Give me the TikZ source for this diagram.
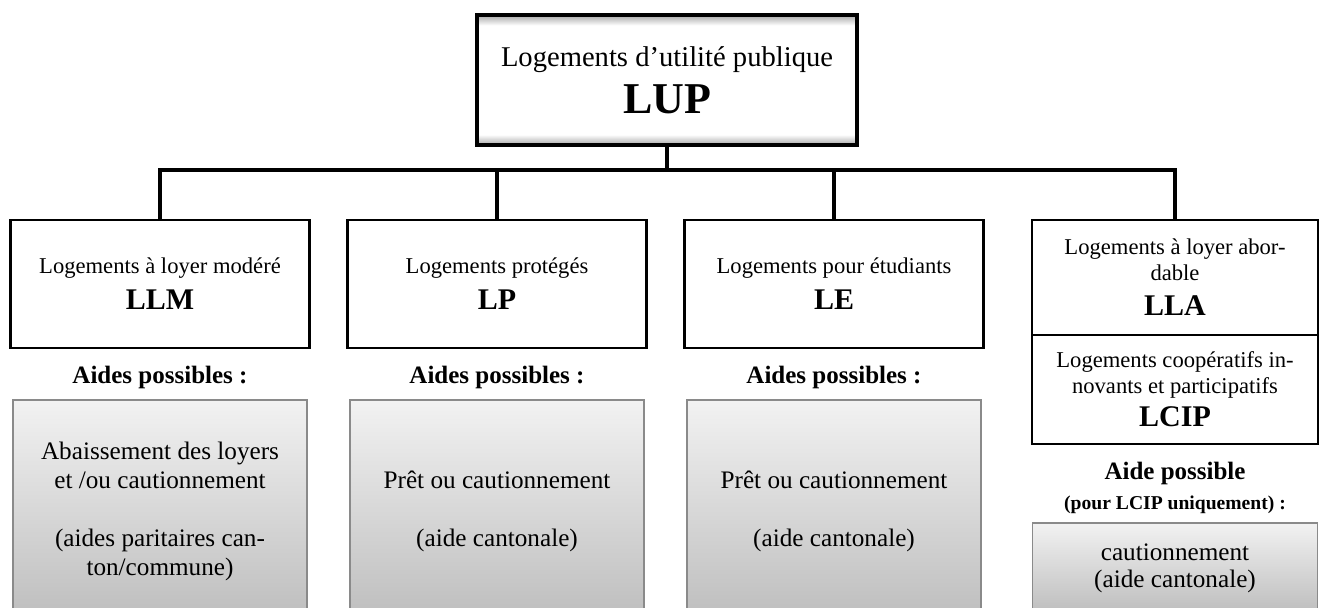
\documentclass[tikz,border=0pt]{standalone}
\usepackage{fontspec}
\setmainfont{Liberation Serif}
\usetikzlibrary{positioning}
\pgfdeclareverticalshading{lupshade}{100bp}{color(0bp)=(black!35); color(25bp)=(black!35);
  color(29bp)=(white); color(71bp)=(white); color(75bp)=(black!35); color(100bp)=(black!35)}
\definecolor{aidtop}{HTML}{F2F2F2}
\definecolor{aidbot}{HTML}{BDBDBD}
\definecolor{aidrule}{HTML}{8A8A8A}

\begin{document}
\begin{tikzpicture}[x=0.5pt,y=-0.5pt,node distance=168.5pt]
\tikzstyle{every node}=[align=center,inner sep=0pt]
\tikzstyle{topbox}=[draw=black,line width=1.7pt,shading=lupshade,minimum width=190pt,
                    minimum height=65pt,font=\fontsize{14.3}{23.4}\selectfont]
\tikzstyle{housebox}=[draw=black,line width=1.2pt,fill=white,minimum width=149.5pt,
                      minimum height=64pt,font=\fontsize{11.3}{13}\selectfont]
\tikzstyle{aidlabel}=[font=\bfseries\fontsize{12.5}{15}\selectfont]
\tikzstyle{aidbox}=[draw=aidrule,line width=0.6pt,top color=aidtop,bottom color=aidbot,
                    minimum width=147pt,minimum height=111pt,font=\fontsize{12.6}{14.5}\selectfont]
\tikzstyle{link}=[line width=1.8pt]
\useasboundingbox (0,0) rectangle (1320,607);
% top level
\node[topbox] (lup) at (667,80) {Logements d’utilité publique\\{\bfseries\fontsize{22}{23.4}\selectfont LUP}};
% categories
\node[housebox] (llm) at (160,284) {Logements à loyer modéré\\[5pt]{\bfseries\fontsize{15}{18}\selectfont LLM}};
\node[housebox] (lp) [right of=llm] {Logements protégés\\[5pt]{\bfseries\fontsize{15}{18}\selectfont LP}};
\node[housebox] (le) [right of=lp] {Logements pour étudiants\\[5pt]{\bfseries\fontsize{15}{18}\selectfont LE}};
\node[housebox,minimum width=143pt,minimum height=57.5pt] (lla) at (1175,277.5)
     {Logements à loyer abor-\\dable\\[4.5pt]{\bfseries\fontsize{15}{18}\selectfont LLA}};
\node[housebox,minimum width=143pt,minimum height=54.5pt] (lcip) [below of=lla,node distance=56pt]
     {Logements coopératifs in-\\novants et participatifs\\[3.5pt]{\bfseries\fontsize{15}{18}\selectfont LCIP}};
% aids
\node[aidlabel] (allm) [below of=llm,node distance=46.5pt] {Aides possibles :};
\node[aidlabel] (alp) [below of=lp,node distance=46.5pt] {Aides possibles :};
\node[aidlabel] (ale) [below of=le,node distance=46.5pt] {Aides possibles :};
\node[aidlabel] (alcip) [below of=lcip,node distance=49pt]
     {Aide possible\\{\fontsize{9.8}{15}\selectfont (pour LCIP uniquement) :}};
\node[aidbox] (gllm) [below of=allm,node distance=67pt]
     {Abaissement des loyers\\et /ou cautionnement\\[14.5pt](aides paritaires can-\\ton/commune)};
\node[aidbox] (glp) [below of=alp,node distance=67pt] {Prêt ou cautionnement\\[14.5pt](aide cantonale)};
\node[aidbox] (gle) [below of=ale,node distance=67pt] {Prêt ou cautionnement\\[14.5pt](aide cantonale)};
\node[aidbox,minimum width=142.5pt,minimum height=45.5pt,font=\fontsize{12.6}{13.5}\selectfont] (glcip)
     [below of=alcip,node distance=40.5pt] {cautionnement\\(aide cantonale)};
% tree
\path (lup.south) ++(0,23) coordinate (hub);
\draw[link] (lup.south) -- (hub);
\draw[link] (llm.north) |- (hub) -| (lla.north);
\draw[link] (lp.north) -- (lp.north |- hub);
\draw[link] (le.north) -- (le.north |- hub);
\end{tikzpicture}
\end{document}
